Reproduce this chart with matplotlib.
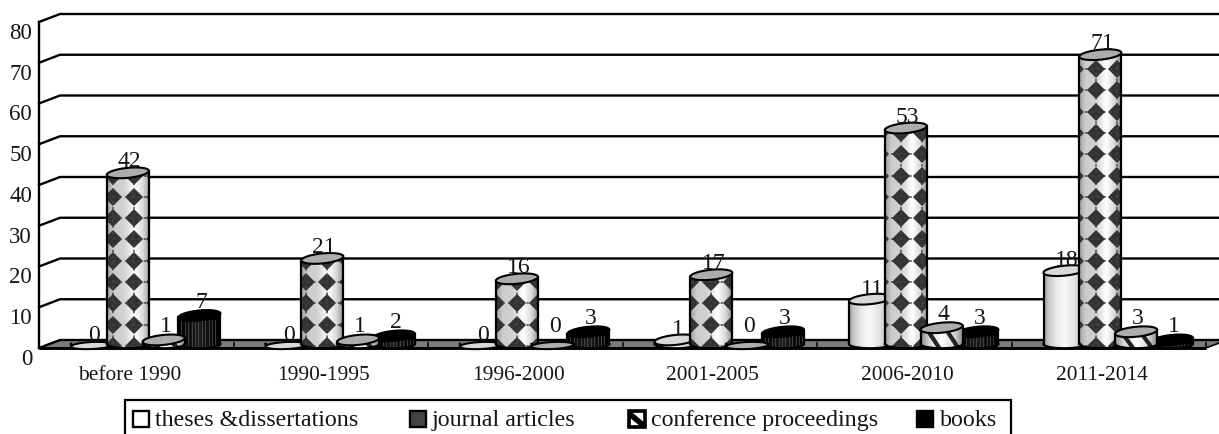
import numpy as np
import matplotlib
matplotlib.use("Agg")
import matplotlib.pyplot as plt
from matplotlib.path import Path
from matplotlib.patches import PathPatch, Polygon, Rectangle

categories = ["before 1990", "1990-1995", "1996-2000", "2001-2005", "2006-2010", "2011-2014"]
series_names = ["theses &dissertations", "journal articles", "conference proceedings", "books"]
theses = [0, 0, 0, 1, 11, 18]
journal = [42, 21, 16, 17, 53, 71]
conference = [1, 1, 0, 0, 4, 3]
books = [7, 2, 3, 3, 3, 1]
y_ticks = [0, 10, 20, 30, 40, 50, 60, 70, 80]

plt.rcParams["font.family"] = ["Liberation Serif", "DejaVu Serif"]
W, H = 1219, 435
fig = plt.figure(figsize=(W / 100, H / 100), dpi=100)
X0, X1, Y0, Y1 = 39, 1206, 349, 23
ax = fig.add_axes([X0 / W, 1 - Y0 / H, (X1 - X0) / W, (Y0 - Y1) / H])
ax.set_xlim(0, len(categories))
ax.set_ylim(0, 80)
PX = len(categories) / (X1 - X0)   # data per pixel, x
PY = 80 / (Y0 - Y1)                # data per pixel, y
LW = 1.7
DX, DY = 21 * PX, 8 * PY
FS = 15.4
INK = "#151515"

for s in ["top", "right", "bottom"]:
    ax.spines[s].set_visible(False)
ax.spines["left"].set_linewidth(LW)
ax.spines["left"].set_zorder(2)

# floor and walls
ax.add_patch(Polygon([(0, 0), (DX, DY), (6 + DX, DY), (6, 0)], closed=True, fc="#7a7a7a",
                     ec="black", lw=1.2, clip_on=False, zorder=1))
ax.plot([0, 6], [0, 0], color="black", lw=LW + .4, clip_on=False, zorder=1.5, solid_capstyle="butt")
for t in y_ticks:
    ax.plot([0, DX, 6 + 2 * DX], [t, t + DY, t + DY], color="black", lw=LW, clip_on=False,
            zorder=1.2, solid_joinstyle="miter")

ax.set_yticks(y_ticks)
ax.set_yticklabels(y_ticks, fontsize=16.5, va="top", color=INK)
ax.tick_params(axis="y", length=0, pad=5)
ax.set_xticks(np.arange(0, 7))
ax.set_xticklabels([])
ax.tick_params(axis="x", which="major", direction="in", length=4.5, width=1.1, zorder=1.6)
ax.set_xticks(np.arange(len(categories)) + 0.5 - 7 * PX, minor=True)
ax.set_xticklabels(categories, minor=True, fontsize=FS, color=INK)
ax.tick_params(axis="x", which="minor", length=0, pad=12)
for s in ax.get_xticklines():
    s.set_clip_on(False)

W_BAR = 42 * PX
STEP = 35.8 * PX
LEFT0 = 32 * PX
BASE = 4 * PY
phase = [6, 5, 0, 0, 16, 17]
t_arc = np.linspace(0, np.pi, 40)
u = np.linspace(0, 1, 64)[None, :]

shades = {
    0: ([0, .1, .3, .5, .7, .9, 1], [.62, .78, .92, .97, .9, .78, .6]),
    1: ([0, .15, .4, .65, .85, 1], [.62, .8, .82, 1, .85, .6]),
    2: ([0, .2, .5, .8, 1], [.55, .85, 1, .85, .55]),
    3: ([0, .5, 1], [0, .12, 0]),
}
top_shade = {0: .85, 1: .68, 2: .68, 3: .0}
zorders = {0: 3, 1: 4, 2: 6, 3: 5}
label_gap = {0: 11, 1: 12, 2: 14, 3: 14}


def draw_cyl(cat, idx, value):
    left = cat + LEFT0 + idx * STEP
    cx = left + W_BAR / 2
    rx = W_BAR / 2
    flat = value == 0
    RY = (3.5 if flat else 5) * PY
    TILT = (1 if flat else 2) * PY
    cy = value + BASE - (1.5 * PY if flat else 0)
    z = zorders[idx]
    top_x = cx - rx * np.cos(t_arc)
    top_y = cy + RY * np.sin(t_arc) + TILT * (-np.cos(t_arc))
    up_y = cy - RY * np.sin(t_arc) + TILT * (-np.cos(t_arc))
    bot_y = BASE - 5 * PY * np.sin(t_arc) * .85
    xs = np.r_[top_x, top_x[::-1]]
    ys = np.r_[top_y, bot_y[::-1]]
    path = Path(np.c_[xs, ys])
    clip = PathPatch(path, transform=ax.transData, fc="none", ec="none")
    ax.add_patch(clip)
    xp, fp = shades[idx]
    img = ax.imshow(np.interp(u, xp, fp), extent=[left, left + W_BAR, -2, cy + 3], origin="lower",
                    cmap="gray", vmin=0, vmax=1, aspect="auto", zorder=z, interpolation="bilinear")
    img.set_clip_path(clip)

    if idx == 1:   # diamond checker
        cols = left + (phase[cat] + 21 * np.arange(-1, 3)) * PX
        rows = np.arange(0, 90, 21.3 * PY) + 0.5
        rows = rows[rows < cy + 4]
        for c in cols:
            for art in ax.plot([c] * len(rows), rows, "D", ms=9.6, color="#333333", mew=0, zorder=z + .1):
                art.set_clip_path(clip)
            for art in ax.plot([c, c], [-2, cy], color="#444444", lw=1.1, dashes=(1.5, 2.5), zorder=z + .1):
                art.set_clip_path(clip)
        for r in rows:
            for art in ax.plot([left, left + W_BAR], [r, r], color="#444444", lw=1.1, dashes=(1.5, 2.5),
                               zorder=z + .1):
                art.set_clip_path(clip)
    elif idx == 2 and not flat:  # diagonal stripes
        for k in np.arange(-1, 3):
            x0 = left + k * 19 * PX
            for art in ax.plot([x0, x0 + 24 * PX], [cy + 2, -2], color="#222222", lw=3.0, zorder=z + .1):
                art.set_clip_path(clip)
    elif idx == 3:  # dense vertical lines
        for x in np.arange(left + 3 * PX, left + W_BAR, 3.4 * PX):
            for art in ax.plot([x, x], [-2, max(value - .5, 0) + BASE - 2 * PY], color="#555555", lw=.5,
                               zorder=z + .1):
                art.set_clip_path(clip)

    edge = dict(color="black", lw=1.6, zorder=z + .2, clip_on=False)
    ax.plot([top_x[0], top_x[0]], [top_y[0], BASE], **edge)
    ax.plot([top_x[-1], top_x[-1]], [top_y[-1], BASE], **edge)
    ax.plot(top_x, bot_y, **edge)
    # lid
    lid = np.c_[np.r_[top_x, top_x[::-1]], np.r_[top_y, up_y[::-1]]]
    ax.add_patch(Polygon(lid, closed=True, fc=str(top_shade[idx]), ec="black", lw=1.5,
                         zorder=z + .3, clip_on=False))
    gap = 20 if (idx == 2 and flat) else label_gap[idx]
    ax.text(cx + 2 * PX, cy + gap * PY, str(value), ha="center", va="center", fontsize=17,
            color=INK, zorder=8, clip_on=False)


for i, vals in enumerate([theses, journal, conference, books]):
    for c, v in enumerate(vals):
        draw_cyl(c, i, v)

ax.set_xlim(0, len(categories))
ax.set_ylim(0, 80)


# legend, cut by the lower figure edge as in the reference
def fx(p):
    return p / W


def fy(p):
    return 1 - p / H


fig.add_artist(Rectangle((fx(125), fy(445)), fx(1011 - 125), (445 - 401) / H, transform=fig.transFigure,
                         fc="white", ec="black", lw=1.6, zorder=9))
sq_left = [133, 410, 629, 917]
tx_left = [155, 432, 651, 940]
sq_col = ["white", "#444444", "white", "black"]
for name, sl, tl, col in zip(series_names, sq_left, tx_left, sq_col):
    fig.add_artist(Rectangle((fx(sl), fy(428)), 16 / W, 16 / H, transform=fig.transFigure, fc=col, ec="black",
                             lw=1.7, zorder=10))
    fig.text(fx(tl), fy(421), name, ha="left", va="center", fontsize=17.3, color=INK, zorder=10)
# small stripes inside the conference key
fig.add_artist(plt.Line2D([fx(631), fx(643)], [fy(416), fy(426)], transform=fig.transFigure, color="black",
                          lw=4, zorder=11))
fig.add_artist(Rectangle((fx(629), fy(428)), 16 / W, 16 / H, transform=fig.transFigure, fc="none", ec="black",
                         lw=2.6, zorder=12))

fig.savefig("out.png", dpi=100)
